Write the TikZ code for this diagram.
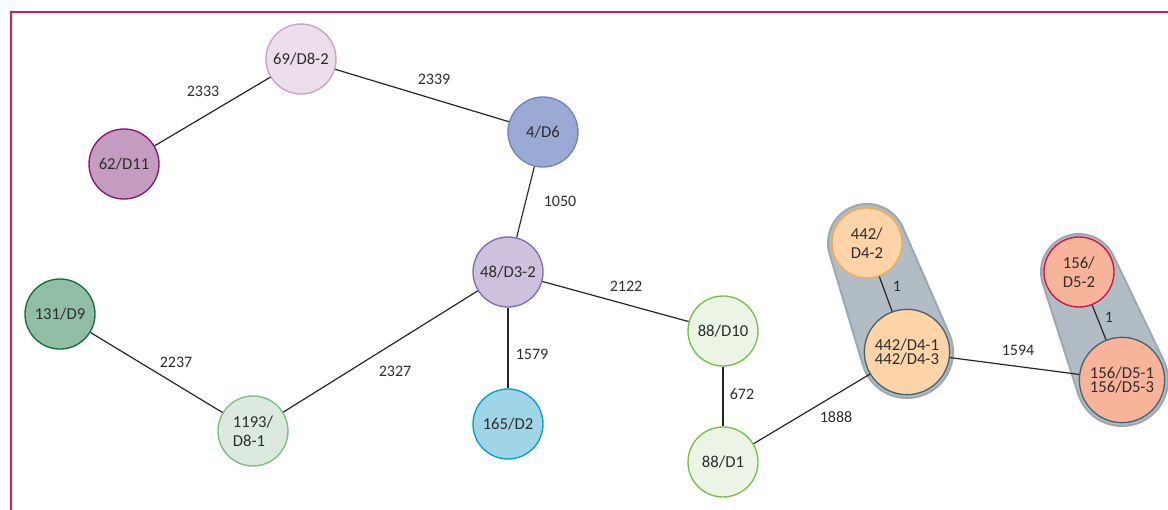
\documentclass[tikz,border=0pt]{standalone}
\usepackage{fontspec}
\setmainfont{Carlito}
\usepackage{tikz}
\usetikzlibrary{calc,backgrounds}

\definecolor{frameRed}{RGB}{212,30,85}
\definecolor{txtGray}{RGB}{45,45,45}
\definecolor{capFill}{RGB}{178,188,197}
\definecolor{capLine}{RGB}{158,168,178}

\tikzset{
  iso/.style={circle,minimum size=52.5pt,inner sep=0pt,line width=1pt,
    align=left,text=txtGray,font=\fontsize{12.5}{14}\selectfont},
  isobig/.style={iso,minimum size=64pt,font=\fontsize{12.5}{11}\selectfont},
  dist/.style={inner sep=0.75pt,text=txtGray,font=\fontsize{12}{14}\selectfont},
  link/.style={line width=0.9pt,black!85},
  capsule/.style={fill=capFill,draw=capLine,line width=1.5pt}
}

\begin{document}
\begin{tikzpicture}[x=0.75pt,y=0.75pt,yscale=-1,xscale=1]
\useasboundingbox (0,0) rectangle (1168,510);
%Frame
\draw [frameRed,line width=1.2]    (11,510) -- (11,12) -- (1168,12) ;

% Isolates
\draw (301,59) node (d82) [iso,fill={rgb,255:red,236;green,222;blue,234},draw={rgb,255:red,200;green,160;blue,200}] {69/D8-2};
\draw (124,164) node (d11) [iso,fill={rgb,255:red,197;green,156;blue,193},draw={rgb,255:red,140;green,20;blue,110}] {62/D11};
\draw (543,132) node (d6) [iso,fill={rgb,255:red,155;green,170;blue,212},draw={rgb,255:red,115;green,130;blue,190}] {4/D6};
\draw (508,272) node (d32) [iso,fill={rgb,255:red,206;green,193;blue,222},draw={rgb,255:red,125;green,110;blue,180}] {48/D3-2};
\draw (60,314) node (d9) [iso,fill={rgb,255:red,146;green,190;blue,166},draw={rgb,255:red,20;green,110;blue,60}] {131/D9};
\draw (253,431) node (d81) [iso,fill={rgb,255:red,219;green,233;blue,223},draw={rgb,255:red,120;green,190;blue,130}] {1193/\\D8-1};
\draw (508,424) node (d2) [iso,fill={rgb,255:red,160;green,213;blue,231},draw={rgb,255:red,0;green,160;blue,200}] {165/D2};
\draw (723,331) node (d10) [iso,fill={rgb,255:red,236;green,244;blue,229},draw={rgb,255:red,120;green,190;blue,70}] {88/D10};
\draw (723,462) node (d1) [iso,fill={rgb,255:red,236;green,244;blue,229},draw={rgb,255:red,120;green,190;blue,70}] {88/D1};
\draw (867,243) node (d42) [iso,fill={rgb,255:red,254;green,212;blue,168},draw={rgb,255:red,245;green,170;blue,80}] {442/\\D4-2};
\draw (907,352) node (d41) [isobig,fill={rgb,255:red,254;green,212;blue,168},draw={rgb,255:red,70;green,100;blue,110}] {442/D4-1\\442/D4-3};
\draw (1079,272) node (d52) [iso,fill={rgb,255:red,248;green,180;blue,155},draw={rgb,255:red,205;green,20;blue,60}] {156/\\D5-2};
\draw (1122,380) node (d51) [isobig,fill={rgb,255:red,248;green,180;blue,155},draw={rgb,255:red,70;green,100;blue,110}] {156/D5-1\\156/D5-3};

% Capsules
\begin{pgfonlayer}{background}
\filldraw [capsule] ($(d42)+(-23.6:39)$) -- ($(d41)+(-23.6:46)$) arc [start angle=-23.6,end angle=163.3,radius=46] -- ($(d42)+(163.3:39)$) arc [start angle=163.3,end angle=336.4,radius=39] -- cycle ;
\filldraw [capsule] ($(d52)+(-25.7:38)$) -- ($(d51)+(-25.7:46)$) arc [start angle=-25.7,end angle=162.2,radius=46] -- ($(d52)+(162.2:38)$) arc [start angle=162.2,end angle=334.3,radius=38] -- cycle ;
\end{pgfonlayer}

% Links
\draw [link] (d11) -- (d82) ;
\draw [link] (d82) -- (d6) ;
\draw [link] (d6) -- (d32) ;
\draw [link] (d32) -- (d81) ;
\draw [link] (d32) -- (d2) ;
\draw [link] (d32) -- (d10) ;
\draw [link] (d9) -- (d81) ;
\draw [link] (d10) -- (d1) ;
\draw [link] (d1) -- (d41) ;
\draw [link] (d42) -- (d41) ;
\draw [link] (d41) -- (d51) ;
\draw [link] (d52) -- (d51) ;

% Text Node
\draw (203,91) node (l2333) [dist] {2333};
\draw (434,79) node (l2339) [dist] {2339};
\draw (560,201) node (l1050) [dist] {1050};
\draw (626,286) node (l2122) [dist] {2122};
\draw (176,362) node (l2237) [dist] {2237};
\draw (395,371) node (l2327) [dist] {2327};
\draw (532,354) node (l1579) [dist] {1579};
\draw (742,394) node (l672) [dist] {672};
\draw (836,417) node (l1888) [dist] {1888};
\draw (897,286) node (l1a) [dist] {1};
\draw (1018,350) node (l1594) [dist] {1594};
\draw (1109,317) node (l1b) [dist] {1};
\end{tikzpicture}
\end{document}
